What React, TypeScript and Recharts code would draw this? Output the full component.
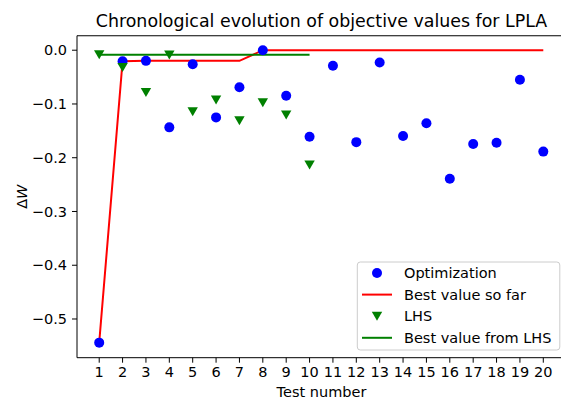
import { ComposedChart, Line, Scatter, XAxis, YAxis, ReferenceLine } from "recharts"

const tests = [1, 2, 3, 4, 5, 6, 7, 8, 9, 10, 11, 12, 13, 14, 15, 16, 17, 18, 19, 20]
const optimization = [
  -0.544, -0.0204, -0.0198, -0.1435, -0.026, -0.125, -0.069, 0.0, -0.0847, -0.161,
  -0.029, -0.171, -0.023, -0.1596, -0.136, -0.239, -0.1744, -0.172, -0.055, -0.1886,
]
const bestSoFar = [
  -0.544, -0.0204, -0.0198, -0.0198, -0.0198, -0.0198, -0.0198, 0.0, 0.0, 0.0,
  0.0, 0.0, 0.0, 0.0, 0.0, 0.0, 0.0, 0.0, 0.0, 0.0,
]
const lhsTests = [1, 2, 3, 4, 5, 6, 7, 8, 9, 10]
const lhs = [-0.0085, -0.032, -0.0785, -0.0088, -0.1144, -0.0928, -0.131, -0.0977, -0.1206, -0.2134]
const bestLhs = [-0.0085, -0.0085, -0.0085, -0.0085, -0.0085, -0.0085, -0.0085, -0.0085, -0.0085, -0.0085]
const yTicks = [-0.5, -0.4, -0.3, -0.2, -0.1, 0.0]
const legendNames = ["Optimization", "Best value so far", "LHS", "Best value from LHS"]

const optData = tests.map((x, i) => ({ x, y: optimization[i] }))
const bestData = tests.map((x, i) => ({ x, y: bestSoFar[i] }))
const lhsData = lhsTests.map((x, i) => ({ x, y: lhs[i] }))
const bestLhsData = lhsTests.map((x, i) => ({ x, y: bestLhs[i] }))

const FONT = "DejaVu Sans, sans-serif"
const FS = 14.5
const BLUE = "#0000ff"
const RED = "#ff0000"
const GREEN = "#008000"

const fmt = (v: number) => (v < 0 ? "\u2212" + Math.abs(v).toFixed(1) : v.toFixed(1))

const Dot = (props: any) => <circle cx={props.cx} cy={props.cy} r={5} fill={BLUE} />
const Tri = (props: any) => {
  const { cx, cy } = props
  return <path d={`M${cx - 5.2},${cy - 4.5} L${cx + 5.2},${cy - 4.5} L${cx},${cy + 4.5} Z`} fill={GREEN} />
}

export default function App() {
  const legendTop = 262
  const rowH = 21.6
  return (
    <div style={{ position: "fixed", left: 0, top: 0, width: 561, height: 400, overflow: "hidden", background: "#fff" }}>
      <ComposedChart width={570} height={400} margin={{ top: 35.7, right: 4.5, left: 0, bottom: 0 }}>
        <XAxis
          dataKey="x"
          type="number"
          domain={[0.05, 20.95]}
          ticks={tests}
          allowDataOverflow
          height={42.3}
          tickSize={5}
          tickMargin={4}
          stroke="#000"
          tick={{ fill: "#000", fontSize: FS, fontFamily: FONT }}
          interval={0}
        />
        <YAxis
          type="number"
          domain={[-0.572, 0.027]}
          ticks={yTicks}
          allowDataOverflow
          width={77}
          tickSize={5}
          tickMargin={5}
          stroke="#000"
          tickFormatter={fmt}
          tick={{ fill: "#000", fontSize: FS, fontFamily: FONT }}
        />
        <ReferenceLine y={0.027} stroke="#000" strokeWidth={1.1} ifOverflow="visible" />
        <Line data={bestData} dataKey="y" stroke={RED} strokeWidth={2} dot={false} isAnimationActive={false} />
        <Line data={bestLhsData} dataKey="y" stroke={GREEN} strokeWidth={2} dot={false} isAnimationActive={false} />
        <Scatter data={optData} dataKey="y" fill={BLUE} shape={Dot} isAnimationActive={false} />
        <Scatter data={lhsData} dataKey="y" fill={GREEN} shape={Tri} isAnimationActive={false} />
      </ComposedChart>
      <svg width={561} height={400} style={{ position: "absolute", left: 0, top: 0, pointerEvents: "none" }}>
        <text x={321.5} y={27} textAnchor="middle" fontSize={17.4} fontFamily={FONT} fill="#000">
          Chronological evolution of objective values for LPLA
        </text>
        <text x={321.5} y={397} textAnchor="middle" fontSize={FS} fontFamily={FONT} fill="#000">
          Test number
        </text>
        <text transform="translate(27,196.7) rotate(-90)" textAnchor="middle" fontSize={FS} fontFamily={FONT} fill="#000">
          Δ<tspan fontStyle="italic">W</tspan>
        </text>
        <rect x={357.3} y={legendTop} width={202.5} height={88} rx={3} fill="#fff" fillOpacity={0.8} stroke="#cccccc" />
        {legendNames.map((name, i) => {
          const cy = legendTop + 11 + i * rowH
          let marker
          if (i === 0) marker = <circle cx={377} cy={cy} r={5} fill={BLUE} />
          else if (i === 2) marker = <Tri cx={377} cy={cy} />
          else
            marker = <line x1={362} x2={392} y1={cy} y2={cy} stroke={i === 1 ? RED : GREEN} strokeWidth={2} />
          return (
            <g key={name}>
              {marker}
              <text x={404} y={cy} dy="0.36em" fontSize={FS} fontFamily={FONT} fill="#000">
                {name}
              </text>
            </g>
          )
        })}
      </svg>
    </div>
  )
}
